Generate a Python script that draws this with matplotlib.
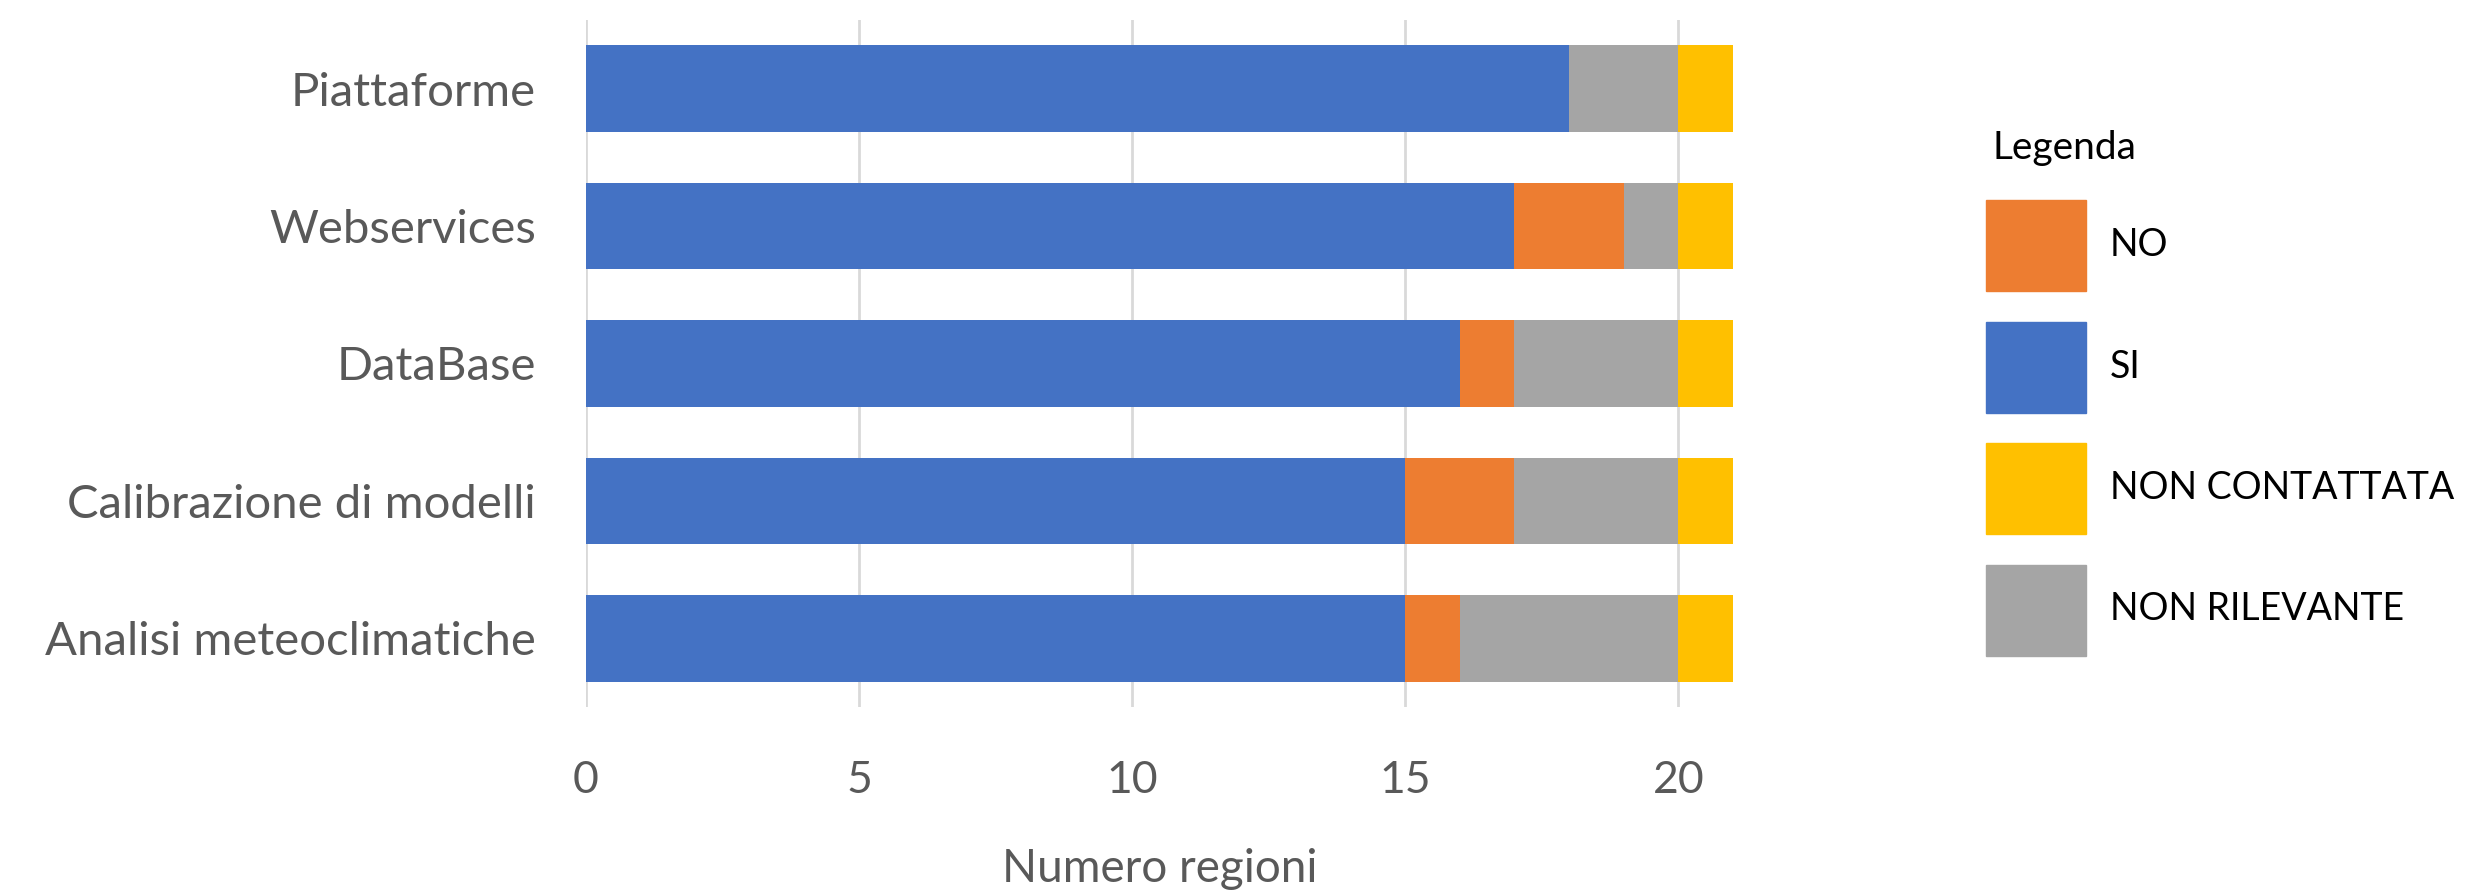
import matplotlib.pyplot as plt
from matplotlib.patches import Rectangle

plt.rcParams['font.family'] = ['Lato', 'DejaVu Sans']

# data (top to bottom)
categorie = ['Piattaforme', 'Webservices', 'DataBase',
             'Calibrazione di modelli', 'Analisi meteoclimatiche']
si = [18, 17, 16, 15, 15]
no = [0, 2, 1, 2, 1]
non_rilevante = [2, 1, 3, 3, 4]
non_contattata = [1, 1, 1, 1, 1]

c_si = '#4472C4'
c_no = '#ED7D31'
c_nc = '#FFC000'
c_nr = '#A5A5A5'
grigio = '#595959'

fig = plt.figure(figsize=(24.7, 8.91), dpi=100)
ax = fig.add_axes([0.2372, 0.2065, 0.4644, 0.7711])

left = [0] * len(categorie)
for vals, col in [(si, c_si), (no, c_no), (non_rilevante, c_nr), (non_contattata, c_nc)]:
    ax.barh(categorie, vals, left=left, color=col, height=0.63, zorder=3)
    left = [a + b for a, b in zip(left, vals)]

ax.set_xlim(0, 21)
ax.set_ylim(-0.5, 4.5)
ax.invert_yaxis()
ax.set_xticks([0, 5, 10, 15, 20])
ax.grid(axis='x', color='#D9D9D9', linewidth=2, zorder=0)
for s in ax.spines.values():
    s.set_visible(False)
ax.tick_params(axis='x', length=0, pad=38, labelsize=32, labelcolor=grigio)
ax.tick_params(axis='y', length=0, pad=36, labelsize=34, labelcolor=grigio)
ax.set_xlabel('Numero regioni', fontsize=33, color=grigio, labelpad=34)

# legenda
fig.text(1993 / 2470, 1 - 148 / 891, 'Legenda', fontsize=28, color='black',
         ha='left', va='center')
voci = [('NO', c_no), ('SI', c_si), ('NON CONTATTATA', c_nc), ('NON RILEVANTE', c_nr)]
for i, (lab, col) in enumerate(voci):
    y_top = 200 + i * 121.5
    fig.add_artist(Rectangle((1986 / 2470, 1 - (y_top + 91) / 891), 100 / 2470, 91 / 891,
                             transform=fig.transFigure, color=col))
    fig.text(2110 / 2470, 1 - (y_top + 45) / 891, lab, fontsize=27, color='black',
             ha='left', va='center')

fig.savefig('out.png', dpi=100)
